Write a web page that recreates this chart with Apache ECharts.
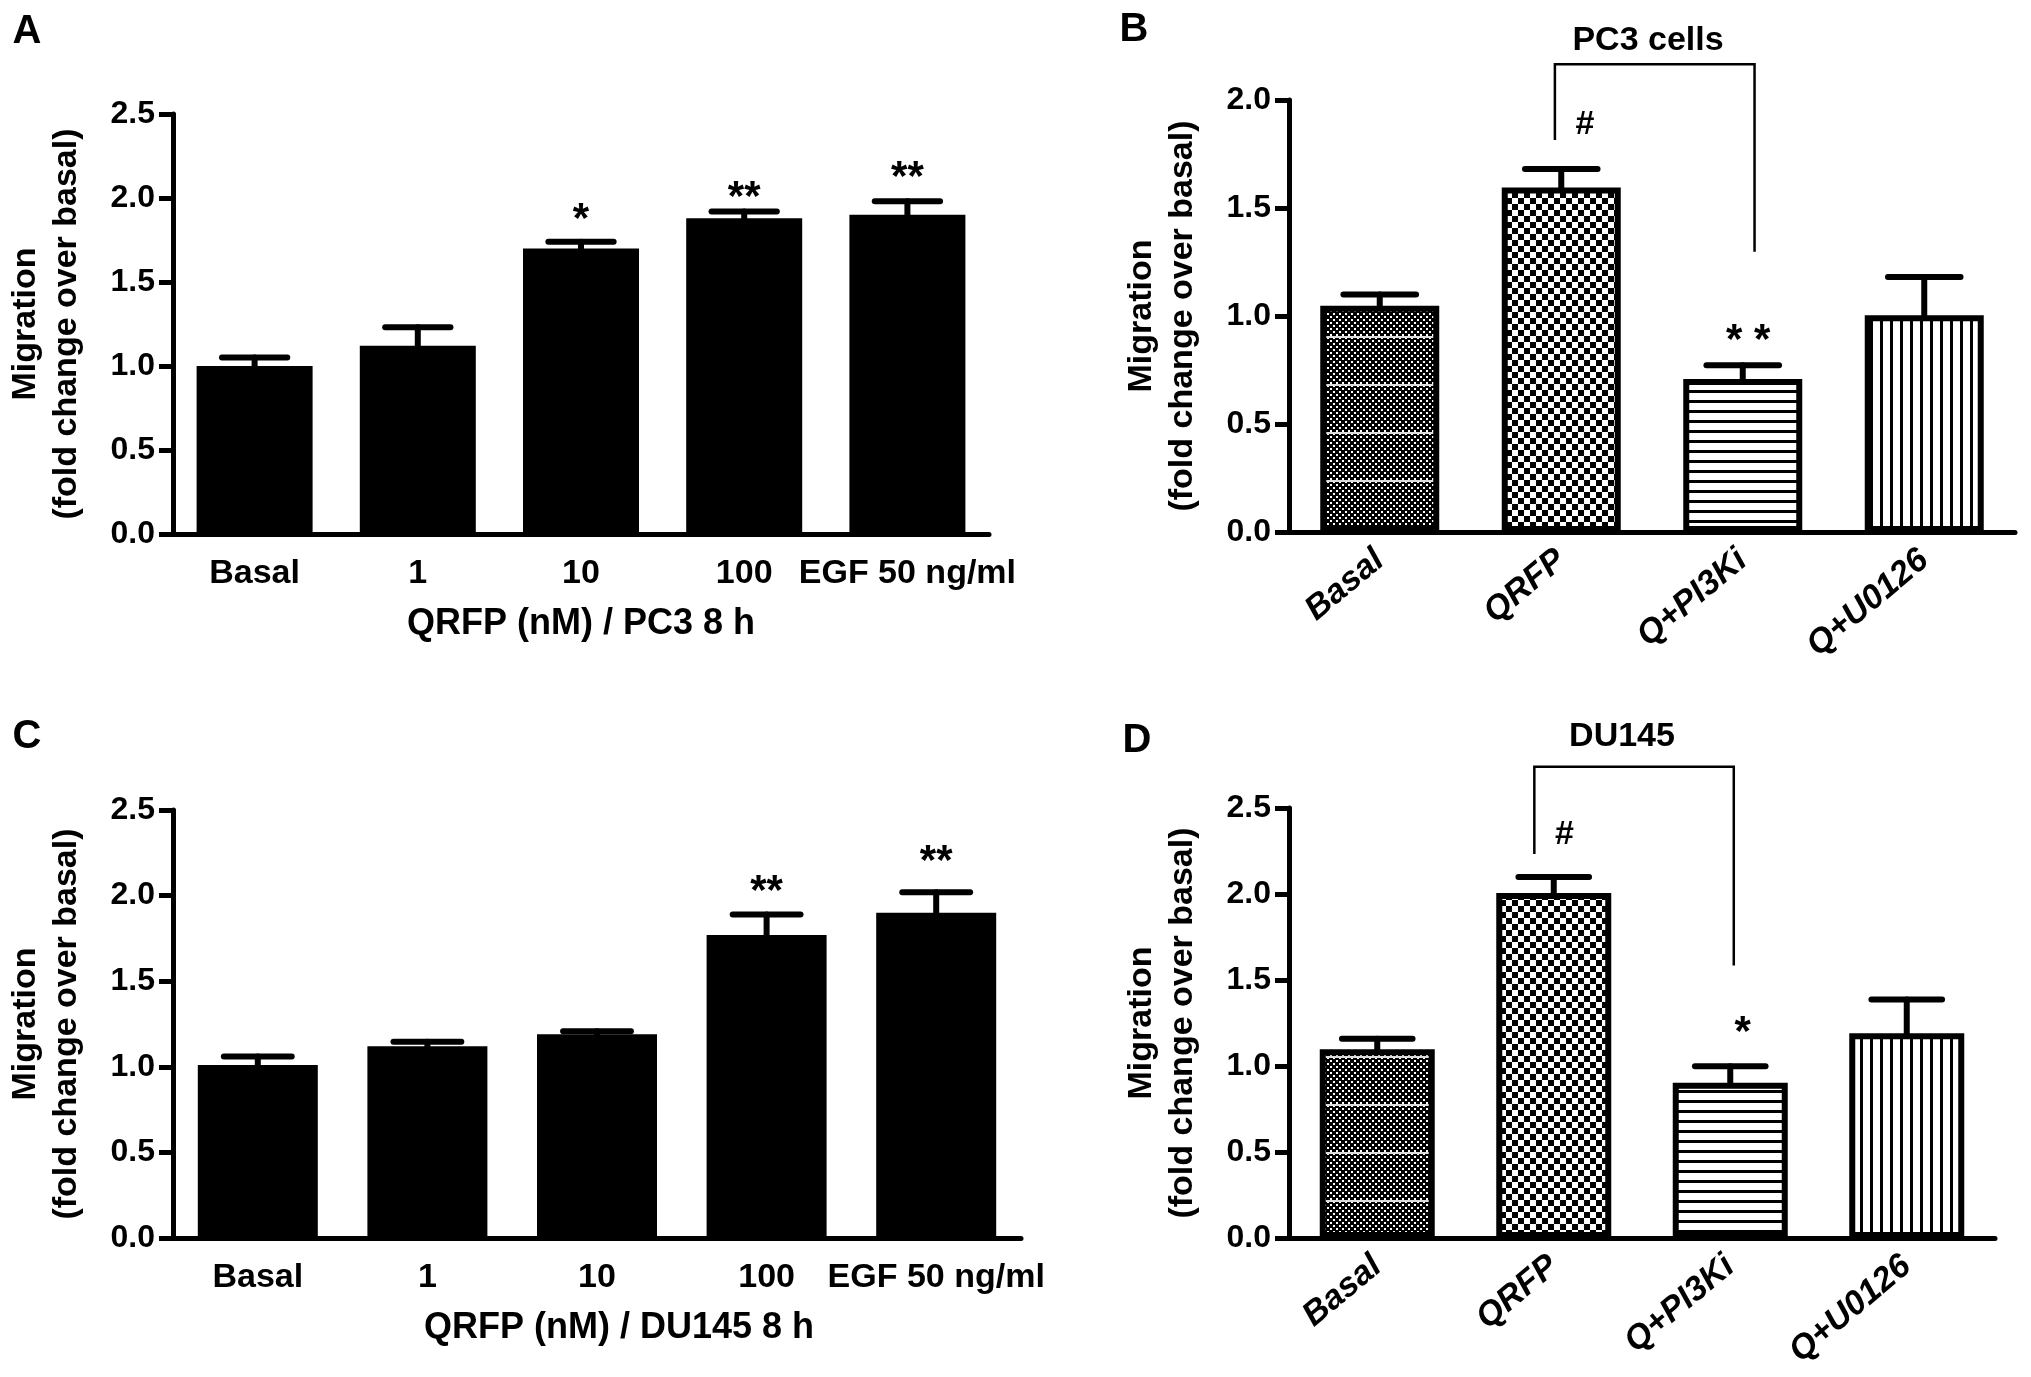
<!DOCTYPE html>
<html>
<head>
<meta charset="utf-8">
<script src="https://cdn.jsdelivr.net/npm/echarts@6.0.0/dist/echarts.min.js"></script>
<style>
html, body { margin: 0; padding: 0; background: #fff; }
#main { width: 2031px; height: 1377px; }
</style>
</head>
<body>
<div id="main"></div>
<script>
// ---- data ----
// A / C : QRFP dose response
var doseCats = ['Basal', '1', '10', '100', 'EGF 50 ng/ml'];

var pc3Dose = [1.00, 1.12, 1.70, 1.88, 1.90];
var pc3DoseErr = [0.05, 0.11, 0.04, 0.04, 0.08];
var pc3DoseMarks = ['', '', '*', '**', '**'];
var pc3DoseMarkY = [null, null, 1.92, 2.05, 2.17];

var du145Dose = [1.01, 1.12, 1.19, 1.77, 1.90];
var du145DoseErr = [0.05, 0.026, 0.017, 0.12, 0.12];
var du145DoseMarks = ['', '', '', '**', '**'];
var du145DoseMarkY = [null, null, null, 2.07, 2.245];

// B / D : inhibitors
var inhCats = ['Basal', 'QRFP', 'Q+PI3Ki', 'Q+U0126'];

var pc3Inh = [1.047, 1.595, 0.708, 1.003];
var pc3InhErr = [0.053, 0.085, 0.064, 0.177];
var pc3InhMarks = ['', '#', '* *', ''];
var pc3InhMarkX = [0, 1.13, 2.03, 3];
var pc3InhMarkY = [null, 1.886, 0.923, null];
// [x from, x to, y at left end, y of top, y at right end]
var pc3Bracket = [0.965, 2.065, 1.815, 2.166, 1.298];

var du145Inh = [1.098, 2.006, 0.903, 1.191];
var du145InhErr = [0.06, 0.093, 0.095, 0.196];
var du145InhMarks = ['', '#', '*', ''];
var du145InhMarkX = [0, 1.06, 2.07, 3];
var du145InhMarkY = [null, 2.345, 1.241, null];
var du145Bracket = [0.89, 2.02, 2.232, 2.74, 1.585];

var yTicksA = [0, 2.5];
var yTicksB = [0, 2.0];

// ---- styling ----
var FONT = '"Liberation Sans", Arial, Helvetica, sans-serif';
var yTitle = 'Migration\n(fold change over basal)';

function makeTile(w, h, draw) {
    var c = document.createElement('canvas');
    c.width = w;
    c.height = h;
    draw(c.getContext('2d'));
    return c;
}
// basal: fine dots with lighter bands
var dotTile = makeTile(6, 48, function (g) {
    g.fillStyle = '#000';
    g.fillRect(0, 0, 6, 48);
    g.fillStyle = '#fff';
    for (var y = 0; y < 48; y += 6) {
        g.fillRect(1, y + 1, 2, 2);
        g.fillRect(4, y + 4, 2, 2);
    }
    g.fillStyle = '#ddd';
    g.fillRect(0, 0, 6, 2);
});
// QRFP: checkerboard
var checkTile = makeTile(12, 12, function (g) {
    g.fillStyle = '#fff';
    g.fillRect(0, 0, 12, 12);
    g.fillStyle = '#000';
    g.fillRect(0, 0, 6, 6);
    g.fillRect(6, 6, 6, 6);
});
// PI3Ki: horizontal lines
var hLineTile = makeTile(10, 10, function (g) {
    g.fillStyle = '#fff';
    g.fillRect(0, 0, 10, 10);
    g.fillStyle = '#000';
    g.fillRect(0, 0, 10, 3);
});
// U0126: vertical lines
var vLineTile = makeTile(10, 10, function (g) {
    g.fillStyle = '#fff';
    g.fillRect(0, 0, 10, 10);
    g.fillStyle = '#000';
    g.fillRect(0, 0, 3, 10);
});
var inhFills = [dotTile, checkTile, hLineTile, vLineTile].map(function (t) {
    return { image: t, repeat: 'repeat' };
});

var grids = [
    { left: 173, top: 114, width: 816, height: 420 },   // A
    { left: 1289, top: 100, width: 726, height: 432 },  // B
    { left: 173, top: 810, width: 848, height: 428 },   // C
    { left: 1289, top: 808, width: 706, height: 430 }   // D
];

function xAxisCfg(gi, cats, title, rotated, namePad) {
    return {
        type: 'category',
        gridIndex: gi,
        data: cats,
        name: title || '',
        nameLocation: 'middle',
        nameGap: 72,
        nameTextStyle: {
            fontFamily: FONT, fontWeight: 'bold', fontSize: 36, color: '#000',
            padding: namePad || 0
        },
        axisLine: { lineStyle: { color: '#000', width: 5 } },
        axisTick: { alignWithLabel: true, length: 14, lineStyle: { color: '#000', width: 5 } },
        axisLabel: {
            fontFamily: FONT, fontWeight: 'bold', fontSize: 34, color: '#000',
            fontStyle: rotated ? 'italic' : 'normal',
            rotate: rotated ? 40 : 0,
            margin: rotated ? 24 : 23,
            interval: 0
        },
        splitLine: { show: false }
    };
}

function yAxisCfg(gi, ticks) {
    return {
        type: 'value',
        gridIndex: gi,
        min: ticks[0],
        max: ticks[1],
        interval: 0.5,
        name: yTitle,
        nameLocation: 'middle',
        nameRotate: 90,
        nameGap: 86,
        nameMoveOverlap: false,
        nameTextStyle: {
            fontFamily: FONT, fontWeight: 'bold', fontSize: 34, color: '#000', lineHeight: 41
        },
        axisLine: { show: true, lineStyle: { color: '#000', width: 5 } },
        axisTick: { show: true, length: 14, lineStyle: { color: '#000', width: 5 } },
        axisLabel: {
            fontFamily: FONT, fontWeight: 'bold', fontSize: 32, color: '#000',
            margin: 18,
            formatter: function (v) { return v.toFixed(1); }
        },
        splitLine: { show: false }
    };
}

// coordinate with fractional category offset
function coordAt(api, x, y) {
    var i = Math.round(x);
    var p = api.coord([i, y]);
    return [p[0] + (x - i) * api.size([1, 0])[0], p[1]];
}

function errSeries(gi, vals, errs) {
    return {
        type: 'custom',
        xAxisIndex: gi, yAxisIndex: gi,
        z: 5,
        silent: true,
        data: vals.map(function (v, i) { return [i, v, v + errs[i]]; }),
        renderItem: function (params, api) {
            var lo = api.coord([api.value(0), api.value(1)]);
            var hi = api.coord([api.value(0), api.value(2)]);
            var half = api.size([1, 0])[0] * 0.2;
            var st = { stroke: '#000', lineWidth: 6, lineCap: 'round' };
            return {
                type: 'group',
                children: [
                    { type: 'line', shape: { x1: lo[0], y1: lo[1], x2: hi[0], y2: hi[1] }, style: st },
                    { type: 'line', shape: { x1: hi[0] - half, y1: hi[1], x2: hi[0] + half, y2: hi[1] }, style: st }
                ]
            };
        }
    };
}

function markSeries(gi, xs, ys, texts) {
    var items = [];
    texts.forEach(function (t, i) {
        if (t) items.push({ x: xs ? xs[i] : i, y: ys[i], t: t });
    });
    return {
        type: 'custom',
        xAxisIndex: gi, yAxisIndex: gi,
        z: 6,
        silent: true,
        data: items.map(function (it) { return [Math.round(it.x), it.y]; }),
        renderItem: function (params, api) {
            var it = items[params.dataIndex];
            var isStar = it.t.indexOf('*') >= 0;
            var size = isStar ? 42 : 34;
            var p = coordAt(api, it.x, it.y);
            return {
                type: 'text',
                x: p[0],
                y: p[1] + (isStar ? size * 0.22 : 0),
                style: {
                    text: it.t,
                    font: 'bold ' + size + 'px ' + FONT,
                    fill: '#000',
                    align: 'center', verticalAlign: 'middle',
                    textAlign: 'center', textVerticalAlign: 'middle'
                }
            };
        }
    };
}

function bracketSeries(gi, b) {
    return {
        type: 'custom',
        xAxisIndex: gi, yAxisIndex: gi,
        z: 6,
        silent: true,
        data: [[Math.round(b[0]), b[3]]],
        renderItem: function (params, api) {
            var p1 = coordAt(api, b[0], b[2]);
            var p2 = coordAt(api, b[0], b[3]);
            var p3 = coordAt(api, b[1], b[3]);
            var p4 = coordAt(api, b[1], b[4]);
            return {
                type: 'polyline',
                shape: { points: [p1, p2, p3, p4] },
                style: { stroke: '#000', lineWidth: 2.5, fill: null }
            };
        }
    };
}

function solidBars(gi, vals, width) {
    return {
        type: 'bar',
        xAxisIndex: gi, yAxisIndex: gi,
        barWidth: width,
        z: 2,
        data: vals,
        itemStyle: { color: '#000' }
    };
}

function patternBars(gi, vals, width) {
    return {
        type: 'bar',
        xAxisIndex: gi, yAxisIndex: gi,
        barWidth: width,
        z: 2,
        data: vals.map(function (v, i) {
            return { value: v, itemStyle: { color: inhFills[i], borderColor: '#000', borderWidth: 6 } };
        })
    };
}

function panelText(x, y, text, size) {
    return {
        type: 'text',
        x: x, y: y,
        style: {
            text: text,
            font: 'bold ' + size + 'px ' + FONT,
            fill: '#000',
            textAlign: 'center', textVerticalAlign: 'middle',
            align: 'center', verticalAlign: 'middle'
        }
    };
}

var chart = echarts.init(document.getElementById('main'), null, { renderer: 'canvas' });
chart.setOption({
    backgroundColor: '#fff',
    animation: false,
    grid: grids,
    xAxis: [
        xAxisCfg(0, doseCats, 'QRFP (nM) / PC3 8 h', false),
        xAxisCfg(1, inhCats, '', true),
        xAxisCfg(2, doseCats, 'QRFP (nM) / DU145 8 h', false, [0, 0, 0, 44]),
        xAxisCfg(3, inhCats, '', true)
    ],
    yAxis: [
        yAxisCfg(0, yTicksA),
        yAxisCfg(1, yTicksB),
        yAxisCfg(2, yTicksA),
        yAxisCfg(3, yTicksA)
    ],
    graphic: [
        panelText(27, 32, 'A', 40),
        panelText(1134, 30, 'B', 40),
        panelText(27, 737, 'C', 40),
        panelText(1137, 741, 'D', 40),
        panelText(1648, 41, 'PC3 cells', 34),
        panelText(1622, 737, 'DU145', 34)
    ],
    series: [
        solidBars(0, pc3Dose, 116),
        errSeries(0, pc3Dose, pc3DoseErr),
        markSeries(0, null, pc3DoseMarkY, pc3DoseMarks),

        patternBars(1, pc3Inh, 119),
        errSeries(1, pc3Inh, pc3InhErr),
        markSeries(1, pc3InhMarkX, pc3InhMarkY, pc3InhMarks),
        bracketSeries(1, pc3Bracket),

        solidBars(2, du145Dose, 120),
        errSeries(2, du145Dose, du145DoseErr),
        markSeries(2, null, du145DoseMarkY, du145DoseMarks),

        patternBars(3, du145Inh, 115),
        errSeries(3, du145Inh, du145InhErr),
        markSeries(3, du145InhMarkX, du145InhMarkY, du145InhMarks),
        bracketSeries(3, du145Bracket)
    ]
});
</script>
</body>
</html>
